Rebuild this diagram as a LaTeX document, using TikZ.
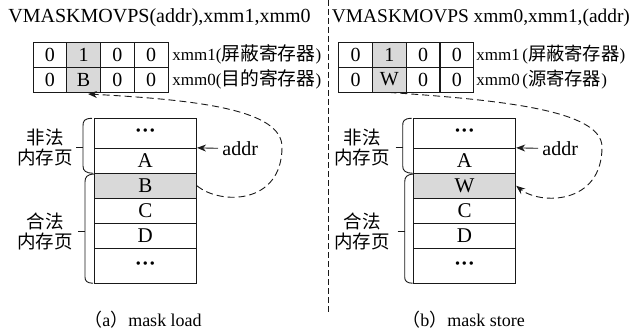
\documentclass[tikz,border=0pt]{standalone}
\usepackage{fontspec}
\setmainfont{Liberation Serif}
\newfontfamily\cjk{Noto Sans CJK SC}
\usetikzlibrary{arrows.meta}
\begin{document}
\begin{tikzpicture}[x=1pt,y=-1pt,
  line width=0.9pt,
  cell/.style={draw=black!90, minimum width=33.75pt, minimum height=25pt, inner sep=0pt, font=\fontsize{20}{20}\selectfont},
  hl/.style={fill=black!15},
  mem/.style={draw=black!90, minimum width=102.5pt, minimum height=25pt, inner sep=0pt, font=\fontsize{21}{21}\selectfont},
  reglab/.style={anchor=base west, inner sep=0pt, font=\fontsize{17}{17}\selectfont},
  titl/.style={anchor=base west, inner sep=0pt, font=\fontsize{20}{20}\selectfont},
  pagelab/.style={align=center, inner sep=0pt, font=\cjk\fontsize{18.5}{20}\selectfont},
  capt/.style={anchor=base, inner sep=0pt, font=\fontsize{18}{18}\selectfont},
  addrlab/.style={anchor=base west, inner sep=0pt, font=\fontsize{20}{20}\selectfont},
  addrarrow/.style={-{Stealth[length=9pt,width=7pt]}, draw=black!90},
  dcurve/.style={dash pattern=on 7pt off 4pt, -{Stealth[length=9pt,width=7pt]}, draw=black!90},
  brc/.style={draw=black!90},
  divider/.style={draw=black!90, dash pattern=on 6pt off 3pt},
]
\useasboundingbox (0,0) rectangle (637,334);

% ---------- titles ----------
\node[titl] (tL) at (8,23) {VMASKMOVPS(addr),xmm1,xmm0};
\node[titl, font=\fontsize{19.4}{20}\selectfont] (tR) at (331.5,23) {VMASKMOVPS xmm0,xmm1,(addr)};

% divider
\draw[divider] (328.5,0) -- (328.5,313);

% ---------- left registers ----------
\node[cell] (l10) at (49.9,54.5) {0};
\node[cell,hl] (l11) at (83.6,54.5) {1};
\node[cell] (l12) at (117.4,54.5) {0};
\node[cell] (l13) at (151.1,54.5) {0};
\node[cell] (l00) at (49.9,79.5) {0};
\node[cell,hl] (lB) at (83.6,79.5) {B};
\node[cell] (l02) at (117.4,79.5) {0};
\node[cell] (l03) at (151.1,79.5) {0};
\node[reglab] (lx1) at (172,61) {xmm1({\cjk\fontsize{18.8}{18}\selectfont 屏蔽寄存器})};
\node[reglab] (lx0) at (172,86) {xmm0({\cjk\fontsize{18.8}{18}\selectfont 目的寄存器})};

% ---------- right registers ----------
\node[cell] (r10) at (355.6,54.5) {0};
\node[cell,hl] (r11) at (389.3,54.5) {1};
\node[cell] (r12) at (423.1,54.5) {0};
\node[cell] (r13) at (456.8,54.5) {0};
\node[cell] (r00) at (355.6,79.5) {0};
\node[cell,hl] (rW) at (389.3,79.5) {W};
\node[cell] (r02) at (423.1,79.5) {0};
\node[cell] (r03) at (456.8,79.5) {0};
\node[reglab] (rx1) at (476,61) {xmm1\kern2.5pt({\cjk\fontsize{18.3}{18}\selectfont 屏蔽寄存器})};
\node[reglab] (rx0) at (476,86) {xmm0\kern2.5pt({\cjk\fontsize{18.3}{18}\selectfont 源寄存器})};

% ---------- left memory ----------
\node[mem,minimum height=30pt] (mL1) at (145.3,133.3) {\textbf{···}};
\node[mem] (mLA) at (145.3,160.8) {A};
\node[mem,hl] (mLB) at (145.3,185.8) {B};
\node[mem] (mLC) at (145.3,210.8) {C};
\node[mem] (mLD) at (145.3,235.8) {D};
\node[mem,minimum height=35pt] (mL2) at (145.3,265.8) {\textbf{···}};

% ---------- right memory ----------
\node[mem,minimum height=30pt] (mR1) at (464.5,133.3) {\textbf{···}};
\node[mem] (mRA) at (464.5,160.8) {A};
\node[mem,hl] (mRW) at (464.5,185.8) {W};
\node[mem] (mRC) at (464.5,210.8) {C};
\node[mem] (mRD) at (464.5,235.8) {D};
\node[mem,minimum height=35pt] (mR2) at (464.5,265.8) {\textbf{···}};

% ---------- braces ----------
\draw[brc] (92,118.3) .. controls (84,118.5) and (83,121) .. (83,126) -- (83,166) .. controls (83,171) and (86,173) .. (93,173.3);
\draw[brc] (76,147.5) -- (83,147.5);
\draw[brc] (94,174) .. controls (87,174.5) and (85,177) .. (85,182) -- (85,277) .. controls (85,281) and (87,283) .. (93,283.3);
\draw[brc] (78,231.7) -- (85,231.7);

\draw[brc] (411.7,118.3) .. controls (403.7,118.5) and (402.7,121) .. (402.7,126) -- (402.7,166) .. controls (402.7,171) and (405.7,173) .. (412.7,173.3);
\draw[brc] (395.7,147.5) -- (402.7,147.5);
\draw[brc] (413.7,174) .. controls (406.7,174.5) and (404.7,177) .. (404.7,182) -- (404.7,277) .. controls (404.7,281) and (406.7,283) .. (412.7,283.3);
\draw[brc] (397.7,231.7) -- (404.7,231.7);

% ---------- page labels ----------
\node[pagelab] (pL1) at (45,147) {非法\\内存页};
\node[pagelab] (pL2) at (45,231) {合法\\内存页};
\node[pagelab] (pR1) at (362,147) {非法\\内存页};
\node[pagelab] (pR2) at (362,231) {合法\\内存页};

% ---------- addr arrows ----------
\node[addrlab] (aL) at (222,155) {addr};
\node[addrlab] (aR) at (542,155) {addr};
\coordinate (aLs) at (218,148.3);
\coordinate (aRs) at (538,148.3);
\draw[addrarrow] (aLs) -- (mLA.north east);
\draw[addrarrow] (aRs) -- (mRA.north east);

% ---------- dashed curves ----------
\coordinate (tipL) at (88,94);
\draw[dcurve] (mLB.east) .. controls (220,205) and (282,205) .. (282,147) .. controls (282,110) and (200,100) .. (tipL);
\draw[dcurve] (rW.south) .. controls (500,100) and (602,110) .. (602,147) .. controls (602,205) and (540,205) .. (mRW.east);

% ---------- captions ----------
\node[capt] (cL) at (143,326) {{\cjk （}a{\cjk ）}mask load};
\node[capt] (cR) at (463.7,326) {{\cjk （}b{\cjk ）}mask store};
\end{tikzpicture}
\end{document}
